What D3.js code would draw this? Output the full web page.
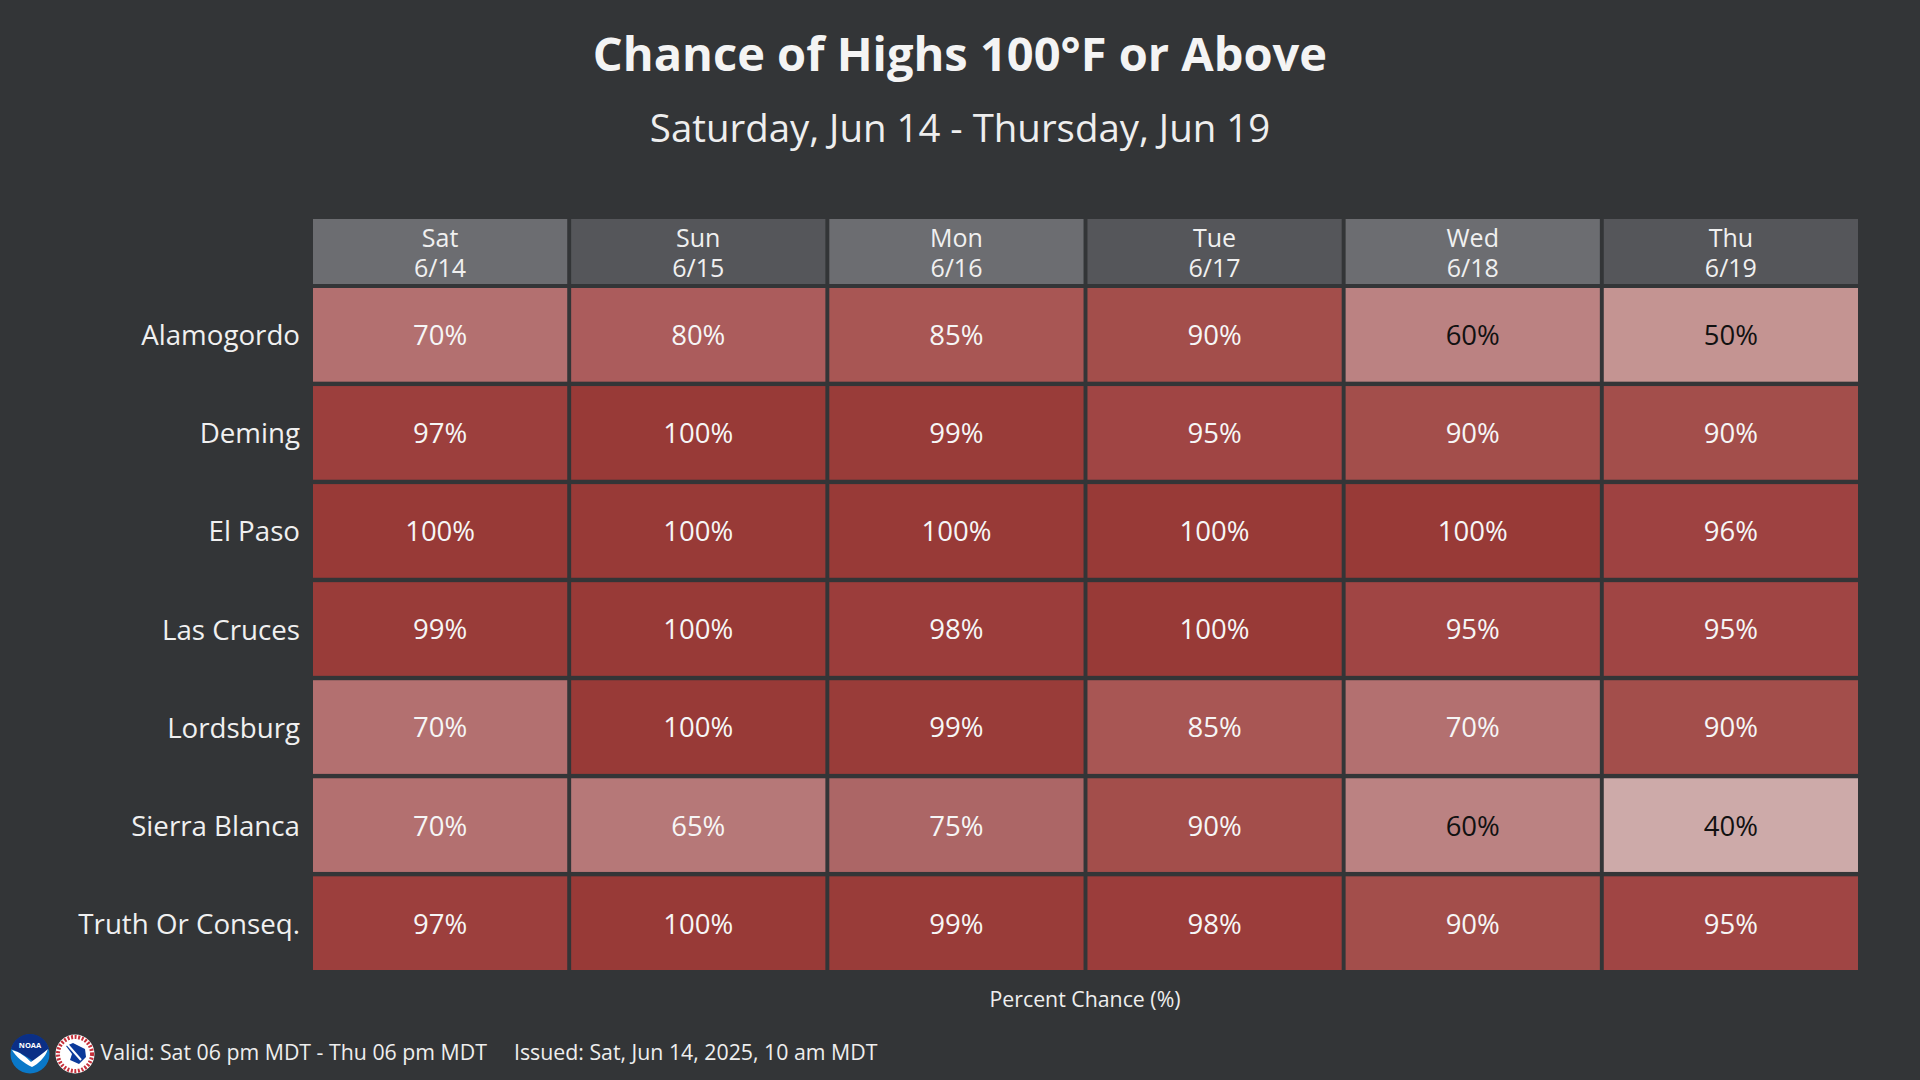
<!DOCTYPE html>
<html><head><meta charset="utf-8">
<script src="https://d3js.org/d3.v7.min.js"></script>
<style>html,body{margin:0;padding:0;background:#333537;overflow:hidden}svg{display:block}text{font-family:"Open Sans",sans-serif}</style>
</head><body><svg id="c" width="1920" height="1080"></svg>
<script>
const cities = ["Alamogordo","Deming","El Paso","Las Cruces","Lordsburg","Sierra Blanca","Truth Or Conseq."];
const days = ["Sat","Sun","Mon","Tue","Wed","Thu"];
const dates = ["6/14","6/15","6/16","6/17","6/18","6/19"];
const alamogordo = [70,80,85,90,60,50];
const deming = [97,100,99,95,90,90];
const elPaso = [100,100,100,100,100,96];
const lasCruces = [99,100,98,100,95,95];
const lordsburg = [70,100,99,85,70,90];
const sierraBlanca = [70,65,75,90,60,40];
const truthOrConseq = [97,100,99,98,90,95];
const rows = [alamogordo,deming,elPaso,lasCruces,lordsburg,sierraBlanca,truthOrConseq];
const colorStops = [40,50,60,65,70,75,80,85,90,95,97,100];
const colorVals = ["#cdaaa9","#c49492","#bb8282","#b67878","#b37070","#ac6666","#ab5c5c","#a85654","#a34e4b","#a04544","#9c3f3d","#983a37"];

const svg = d3.select("#c");
const x = d3.scaleBand().domain(days).range([313,1858]).paddingInner(0.0152).paddingOuter(0).align(0);
const y = d3.scaleBand().domain(cities).range([288,970]).paddingInner(0.0446).paddingOuter(0).align(0);
const color = d3.scaleLinear().domain(colorStops).range(colorVals);
const F = "Open Sans";

svg.append("text").attr("x",960).attr("y",71).attr("text-anchor","middle").attr("fill","#f4f4f4")
  .attr("font-weight",700).attr("font-size",47).text("Chance of Highs 100°F or Above");
svg.append("text").attr("x",960).attr("y",141.5).attr("text-anchor","middle").attr("fill","#eeeeee")
  .attr("font-size",38.4).text("Saturday, Jun 14 - Thursday, Jun 19");

// header
const hdr = svg.append("g").selectAll("g").data(days).join("g");
hdr.append("rect").attr("x",d=>x(d)).attr("y",219).attr("width",x.bandwidth()).attr("height",65)
  .attr("fill",(d,i)=>i%2?"#55565a":"#6c6d71");
hdr.append("text").attr("x",d=>x(d)+x.bandwidth()/2).attr("y",246.5).attr("text-anchor","middle").attr("fill","#f0f0f0").attr("font-size",25).text(d=>d);
hdr.append("text").attr("x",d=>x(d)+x.bandwidth()/2).attr("y",276.5).attr("text-anchor","middle").attr("fill","#f0f0f0").attr("font-size",25).text((d,i)=>dates[i]);

// cells
const rowG = svg.append("g").selectAll("g").data(rows).join("g").attr("transform",(r,i)=>`translate(0,${y(cities[i])})`);
const cell = rowG.selectAll("g").data(r=>r).join("g").attr("transform",(v,i)=>`translate(${x(days[i])},0)`);
cell.append("rect").attr("width",x.bandwidth()).attr("height",y.bandwidth()).attr("fill",v=>color(v));
cell.append("text").attr("x",x.bandwidth()/2).attr("y",y.bandwidth()/2).attr("dy","0.38em").attr("text-anchor","middle")
  .attr("font-size",27.5).attr("fill",v=>v<=60?"#111111":"#f6f6f6").text(v=>v+"%");

// row labels
const ax = svg.append("g").attr("transform","translate(300,0)").call(d3.axisLeft(y).tickSize(0).tickPadding(0));
ax.select(".domain").remove();
ax.selectAll("text").attr("font-family",F).attr("font-size",27.7).attr("fill","#f0f0f0").attr("dy","0.38em");

svg.append("text").attr("x",1085).attr("y",1007).attr("text-anchor","middle").attr("fill","#eeeeee").attr("font-size",21.3).text("Percent Chance (%)");
svg.append("text").attr("x",100.5).attr("y",1060).attr("fill","#eeeeee").attr("font-size",21.3).text("Valid: Sat 06 pm MDT - Thu 06 pm MDT");
svg.append("text").attr("x",514).attr("y",1060).attr("fill","#eeeeee").attr("font-size",21.3).text("Issued: Sat, Jun 14, 2025, 10 am MDT");

// NOAA logo
const n = svg.append("g").attr("transform","translate(30,1054)");
n.append("circle").attr("r",19.5).attr("fill","#0a78c8");
n.append("path").attr("d","M-19,-5 A19.5,19.5 0 0 1 19,-5 C14,0 9,4 3,7 C-3,3 -10,-2 -19,-5Z").attr("fill","#0b2f86");
n.append("path").attr("d","M-18,-4 C-10,-2 -4,3 1,8 C7,4 13,-1 18,-5 C15,4 8,10 2,13 C-6,9 -14,3 -18,-4Z").attr("fill","#ffffff");
n.append("text").attr("y",-6).attr("text-anchor","middle").attr("font-size",7.5).attr("font-weight",700).attr("fill","#ffffff").text("NOAA");
// NWS logo
const w = svg.append("g").attr("transform","translate(75,1054)");
w.append("circle").attr("r",19.5).attr("fill","#ffffff");
w.append("circle").attr("r",17).attr("fill","none").attr("stroke","#c5303a").attr("stroke-width",4).attr("stroke-dasharray","2 1.6");
w.append("circle").attr("r",13).attr("fill","#ffffff");
w.append("path").attr("d","M-9,-8 L-2,-11 L10,-5 L11,3 L4,10 L-5,6 L-3,0Z").attr("fill","#0b3a9a");
w.append("path").attr("d","M-8,-10 L6,6").attr("stroke","#ffffff").attr("stroke-width",2);
</script></body></html>
